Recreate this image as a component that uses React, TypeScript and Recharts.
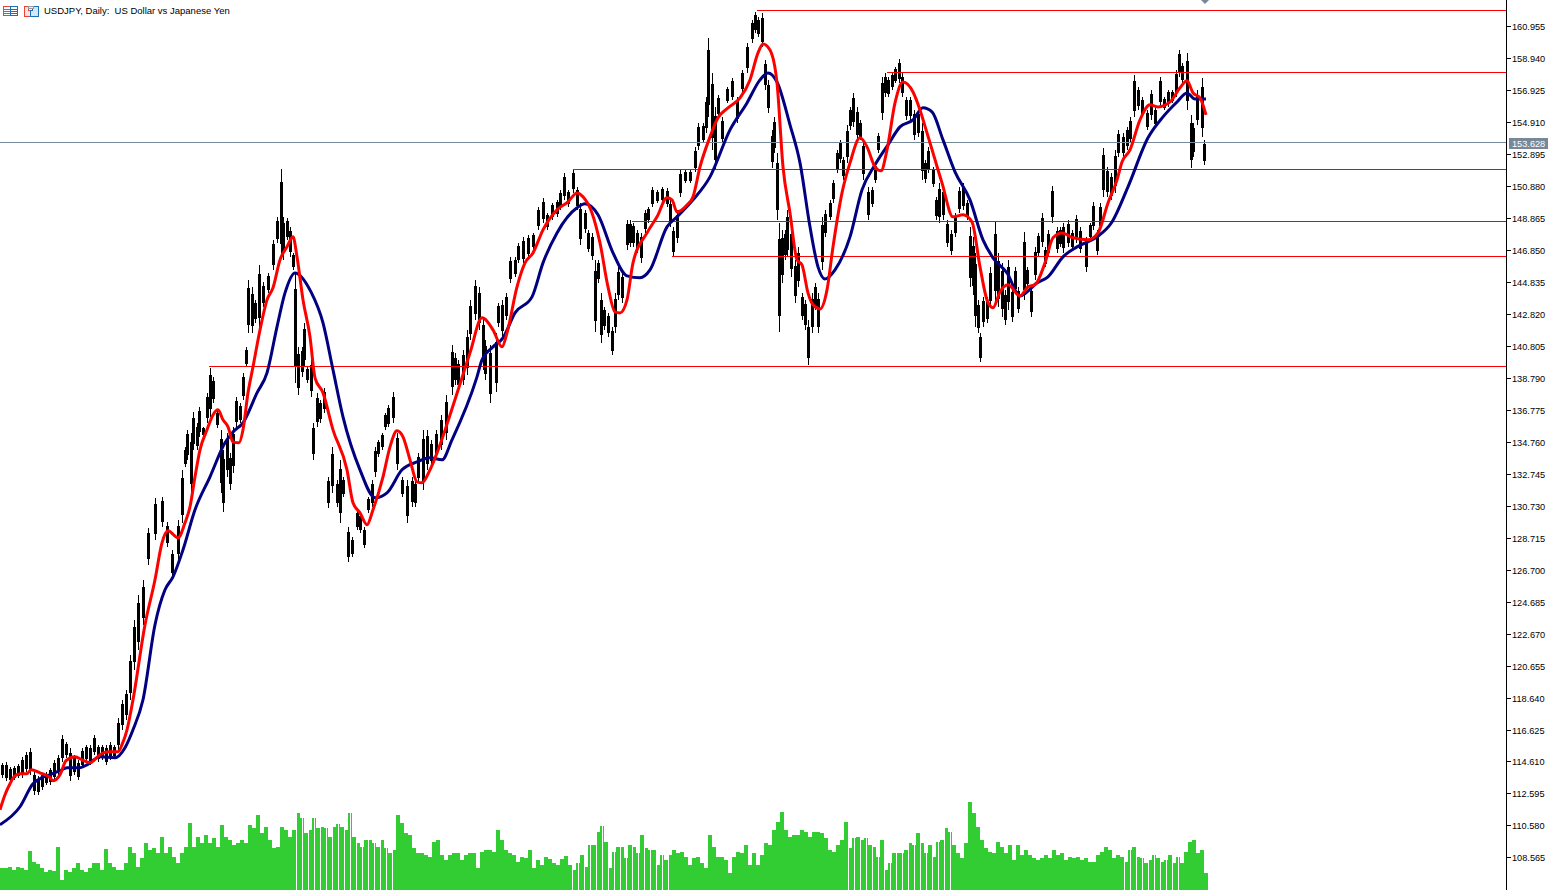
import { Bar, ComposedChart, Line, ReferenceDot, ReferenceLine, XAxis, YAxis } from "recharts";

const CHART_WIDTH = 1558;
const CHART_HEIGHT = 890;
const LAST_PRICE = 153.628;
const VIEW_DAYS = 1506;

const priceTicks = [
  160.955, 158.94, 156.925, 154.91, 152.895, 150.88, 148.865, 146.85, 144.835, 142.82, 140.805, 138.79, 136.775,
  134.76, 132.745, 130.73, 128.715, 126.7, 124.685, 122.67, 120.655, 118.64, 116.625, 114.61, 112.595, 110.58, 108.565,
];

// support / resistance levels: [first day, price]
const redLevels = [
  [757, 161.97],
  [887, 158.03],
  [573, 151.92],
  [632, 148.65],
  [672, 146.44],
  [209, 139.51],
];

// stretches where the volume bars stand apart from each other
const sparseVolumeSpans = [
  [294, 396],
  [572, 673],
  [848, 950],
  [1124, 1180],
];

const barDays = [
  2, 6, 10, 14, 18, 22, 26, 30, 34, 38, 42, 46, 50, 54, 58, 62, 66, 70, 74, 78, 82, 86, 90, 94, 98, 102, 106, 110, 114, 118,
  122, 126, 130, 134, 138, 143, 148, 155, 162, 167, 172, 178, 182, 185, 187, 191, 193, 197, 199, 203, 207, 210, 213, 217,
  221, 223, 227, 230, 233, 236, 240, 243, 246, 248, 252, 255, 259, 263, 268, 273, 277, 281, 283, 287, 290, 293, 295, 298,
  302, 304, 307, 311, 313, 317, 320, 324, 328, 332, 337, 340, 343, 348, 352, 357, 360, 364, 368, 372, 375, 378, 382, 385,
  388, 393, 397, 402, 407, 412, 415, 418, 423, 427, 431, 436, 441, 446, 452, 455, 458, 463, 467, 470, 475, 479, 483, 485,
  490, 496, 498, 502, 506, 510, 515, 518, 523, 528, 533, 538, 543, 547, 552, 557, 560, 564, 568, 573, 577, 580, 585, 588,
  592, 595, 598, 601, 604, 608, 612, 615, 618, 622, 627, 630, 633, 637, 641, 645, 648, 652, 657, 662, 667, 670, 673, 677,
  680, 685, 690, 695, 698, 703, 706, 708, 712, 715, 718, 722, 727, 732, 737, 742, 747, 752, 755, 758, 762, 765, 768, 772,
  774, 777, 779, 782, 785, 787, 791, 795, 798, 802, 805, 808, 812, 815, 818, 822, 825, 830, 833, 837, 840, 843, 847, 850,
  853, 857, 860, 863, 868, 872, 875, 878, 882, 885, 888, 892, 895, 899, 902, 906, 910, 914, 918, 922, 925, 928, 933, 936,
  939, 943, 947, 951, 955, 959, 963, 967, 970, 973, 975, 978, 980, 983, 987, 990, 995, 998, 1002, 1005, 1008, 1012, 1015,
  1018, 1024, 1027, 1031, 1035, 1038, 1042, 1045, 1048, 1052, 1057, 1060, 1063, 1068, 1072, 1076, 1080, 1086, 1090, 1093,
  1097, 1100, 1103, 1107, 1111, 1115, 1118, 1123, 1127, 1130, 1134, 1138, 1142, 1147, 1151, 1155, 1160, 1164, 1168, 1172,
  1176, 1179, 1182, 1187, 1191, 1193, 1197, 1202, 1204,
];

const barHighs = [
  114.56, 114.62, 114.31, 114.37, 114.5, 114.94, 115.25, 115.51, 114.0, 113.74, 113.93, 114.0, 114.25, 114.75, 115.07,
  116.33, 115.88, 115.51, 115.07, 114.75, 115.51, 115.7, 115.7, 116.33, 115.7, 115.7, 115.7, 115.88, 115.7, 117.4,
  118.53, 119.16, 121.37, 123.57, 125.15, 126.09, 129.37, 131.26, 131.32, 129.74, 127.98, 129.87, 133.02, 134.47, 135.54,
  135.35, 136.67, 135.98, 136.99, 135.73, 137.87, 139.45, 138.88, 136.8, 135.54, 134.28, 135.35, 134.09, 135.73, 137.62,
  137.24, 139.13, 140.77, 144.99, 144.55, 143.73, 145.94, 144.86, 145.43, 147.51, 148.96, 151.98, 148.96, 148.9, 148.33,
  146.69, 145.43, 140.77, 140.77, 142.28, 139.51, 139.95, 135.98, 137.87, 137.43, 138.19, 132.58, 134.47, 132.39, 133.65,
  132.58, 129.43, 128.8, 130.5, 130.31, 129.43, 131.32, 132.39, 134.47, 134.91, 135.35, 136.61, 137.12, 137.93, 135.35,
  132.58, 132.39, 132.58, 132.39, 134.09, 135.54, 135.54, 134.91, 135.54, 136.48, 137.75, 140.9, 140.39, 139.95, 140.58,
  141.84, 143.73, 144.99, 144.55, 142.66, 141.21, 140.9, 141.65, 143.54, 143.73, 144.17, 146.44, 146.44, 147.32, 147.7,
  147.82, 147.95, 149.59, 150.16, 149.21, 149.84, 150.03, 150.66, 151.73, 150.66, 151.92, 150.85, 149.84, 149.4, 148.14,
  147.95, 146.25, 146.25, 144.17, 143.29, 142.91, 142.03, 144.17, 145.81, 145.43, 148.77, 148.77, 148.58, 148.14, 147.95,
  149.4, 149.59, 150.85, 150.66, 150.85, 150.79, 150.03, 148.33, 149.4, 151.92, 151.92, 151.92, 153.37, 154.88, 154.88,
  156.52, 160.24, 158.03, 155.89, 156.65, 155.26, 157.15, 157.72, 156.52, 158.22, 159.92, 161.37, 161.87, 161.56, 161.81,
  158.85, 157.59, 154.44, 155.26, 152.99, 148.58, 148.14, 148.14, 149.4, 148.33, 146.25, 147.07, 144.17, 143.73, 142.47,
  144.17, 144.8, 144.17, 148.96, 149.4, 150.03, 151.29, 153.18, 153.81, 152.74, 154.76, 155.89, 156.77, 155.89, 155.07,
  153.81, 150.85, 150.85, 152.36, 154.25, 157.78, 158.03, 157.78, 158.03, 158.41, 158.91, 158.03, 156.52, 156.52, 155.7,
  155.7, 154.88, 152.55, 153.37, 152.11, 150.22, 151.1, 150.85, 148.77, 148.14, 149.21, 150.85, 151.1, 150.03, 148.33,
  147.7, 146.69, 143.73, 141.65, 143.92, 143.92, 145.81, 148.64, 146.69, 146.06, 144.36, 146.25, 144.55, 145.81, 144.55,
  148.01, 145.81, 144.55, 147.07, 147.95, 149.21, 147.07, 148.14, 150.91, 148.33, 148.33, 148.58, 148.77, 148.14, 149.08,
  148.33, 147.7, 148.58, 149.9, 148.14, 149.84, 153.31, 152.11, 151.73, 153.18, 154.44, 154.25, 154.63, 155.26, 157.91,
  157.15, 156.52, 155.7, 156.96, 155.89, 157.78, 156.52, 156.96, 156.96, 158.22, 159.48, 158.66, 159.29, 155.39, 154.88,
  156.96, 157.72, 153.81,
];

const barLows = [
  113.62, 113.43, 113.36, 113.49, 113.62, 113.62, 114.0, 113.81, 112.55, 112.55, 112.86, 113.18, 113.18, 113.49, 113.81,
  114.62, 114.88, 113.43, 113.81, 113.49, 114.25, 114.62, 114.43, 115.07, 114.62, 114.75, 114.43, 114.75, 114.88, 115.38,
  116.64, 117.27, 118.53, 120.42, 121.68, 123.26, 127.04, 128.61, 129.43, 128.17, 126.28, 127.35, 129.68, 133.21, 133.65,
  131.57, 134.28, 134.28, 135.1, 135.1, 135.98, 136.36, 137.24, 135.67, 131.57, 130.37, 132.58, 131.76, 132.83, 135.73,
  135.98, 137.43, 139.51, 141.65, 141.65, 142.28, 142.03, 143.29, 144.17, 145.62, 147.32, 146.44, 146.25, 147.51, 146.44,
  145.62, 138.5, 137.75, 138.88, 139.51, 138.5, 137.62, 133.65, 135.73, 135.98, 136.61, 130.63, 131.57, 130.69, 129.68,
  131.32, 127.22, 127.54, 129.24, 129.05, 128.11, 130.31, 130.69, 132.58, 133.84, 134.28, 135.54, 135.73, 135.98, 133.02,
  131.32, 129.68, 130.69, 130.69, 132.2, 131.76, 133.02, 133.34, 133.65, 134.28, 134.91, 137.75, 138.38, 138.06, 138.38,
  139.01, 141.21, 142.47, 141.84, 139.32, 138.69, 137.24, 137.93, 142.03, 141.4, 142.47, 144.8, 145.18, 146.06, 146.06,
  146.44, 146.88, 148.14, 148.58, 148.14, 148.77, 148.96, 149.4, 150.03, 149.59, 150.47, 149.4, 147.2, 147.95, 146.75,
  146.25, 141.71, 144.8, 141.02, 141.84, 141.4, 140.27, 141.65, 143.73, 143.54, 146.88, 147.07, 147.07, 146.69, 146.06,
  147.95, 148.58, 149.59, 149.84, 149.84, 149.59, 148.33, 146.5, 147.32, 150.22, 151.1, 151.1, 151.79, 153.18, 153.62,
  154.25, 155.26, 153.18, 151.92, 155.26, 153.62, 156.14, 156.33, 154.88, 156.77, 158.03, 159.92, 160.55, 160.3, 159.67,
  156.96, 155.51, 152.05, 152.99, 148.77, 141.71, 144.8, 146.25, 146.44, 145.18, 143.54, 144.55, 142.47, 141.84, 139.64,
  141.65, 143.1, 141.65, 145.62, 147.7, 148.77, 149.84, 151.73, 152.36, 151.29, 152.36, 154.44, 154.63, 153.81, 153.81,
  151.29, 148.77, 149.59, 151.1, 152.99, 155.07, 156.52, 156.52, 156.96, 157.4, 157.4, 156.52, 155.07, 155.07, 153.81,
  154.0, 151.29, 151.1, 151.73, 150.85, 148.77, 148.58, 148.77, 147.07, 146.57, 147.7, 149.21, 149.4, 148.77, 144.55,
  144.05, 142.03, 141.65, 139.82, 142.03, 142.28, 143.29, 143.54, 143.29, 142.66, 142.15, 143.1, 142.34, 144.17, 142.91,
  143.73, 144.55, 142.66, 144.99, 146.44, 147.07, 145.81, 146.44, 148.58, 146.69, 147.07, 146.69, 147.07, 146.88, 147.32,
  146.69, 145.49, 147.51, 148.14, 146.57, 148.14, 150.22, 150.22, 150.03, 150.47, 152.74, 152.74, 153.18, 153.62, 155.26,
  155.7, 155.26, 154.44, 155.07, 154.63, 155.89, 155.7, 155.89, 156.14, 156.52, 157.78, 157.4, 155.7, 152.05, 152.74,
  154.76, 154.0, 152.23,
];

const redDays = [
  0, 5, 10, 14, 20, 27, 31, 40, 50, 53, 60, 66, 75, 82, 90, 100, 108, 118, 122, 127, 133, 145, 155, 162, 168, 178, 185, 190,
  195, 200, 207, 213, 218, 223, 228, 233, 239, 243, 248, 253, 260, 267, 273, 280, 287, 293, 297, 303, 310, 315, 323, 333,
  347, 353, 360, 367, 373, 383, 390, 397, 403, 410, 417, 422, 430, 440, 450, 462, 470, 482, 493, 502, 507, 517, 525, 533,
  543, 557, 568, 577, 583, 592, 600, 608, 615, 620, 627, 633, 647, 657, 667, 672, 677, 687, 693, 700, 710, 718, 728, 740,
  750, 758, 763, 770, 777, 783, 790, 797, 802, 808, 813, 820, 827, 833, 842, 850, 860, 867, 875, 881, 887, 895, 903, 913,
  920, 927, 933, 942, 953, 963, 972, 980, 987, 993, 1000, 1008, 1020, 1028, 1035, 1045, 1053, 1062, 1073, 1088, 1098, 1108,
  1117, 1122, 1130, 1140, 1150, 1158, 1170, 1180, 1187, 1193, 1200, 1206,
];

const redValues = [
  111.6, 112.55, 113.24, 113.68, 113.87, 113.87, 114.12, 113.93, 113.62, 113.43, 113.81, 114.69, 114.94, 114.75, 114.56,
  115.07, 115.25, 115.25, 115.7, 116.64, 118.53, 123.26, 126.09, 128.42, 129.18, 128.74, 129.68, 130.69, 132.58, 134.28,
  135.54, 136.48, 136.8, 136.17, 135.73, 134.78, 134.72, 135.54, 137.87, 139.51, 141.84, 143.73, 144.49, 146.25, 147.07,
  147.7, 146.44, 143.73, 141.4, 138.82, 137.87, 135.54, 133.02, 130.94, 130.31, 129.56, 130.5, 132.58, 134.47, 135.48,
  135.1, 133.65, 132.26, 132.2, 133.02, 134.6, 136.48, 138.82, 140.39, 142.6, 141.84, 140.77, 141.65, 144.55, 146.06,
  146.69, 148.14, 149.4, 149.9, 150.47, 150.22, 149.21, 147.32, 144.55, 142.97, 142.91, 143.73, 146.06, 147.95, 148.96,
  150.16, 150.03, 149.27, 149.71, 150.22, 152.11, 154.0, 155.2, 155.83, 156.46, 157.59, 159.29, 159.86, 159.48, 157.4,
  152.11, 149.21, 146.25, 145.93, 144.17, 143.42, 143.16, 144.36, 147.07, 150.47, 152.36, 153.94, 153.37, 152.11, 151.86,
  153.18, 156.14, 157.46, 156.83, 155.7, 154.25, 152.99, 151.1, 148.96, 149.09, 148.64, 145.81, 143.73, 143.23, 144.23,
  144.68, 143.98, 144.55, 144.68, 146.06, 147.64, 147.95, 147.64, 147.51, 147.95, 149.84, 151.29, 152.42, 153.18, 155.07,
  156.02, 155.89, 156.2, 157.09, 157.53, 156.77, 156.46, 155.39,
];

const blueDays = [
  0, 20, 33, 42, 50, 60, 67, 80, 87, 100, 115, 125, 133, 143, 155, 165, 173, 183, 195, 210, 225, 233, 243, 257, 267, 277,
  285, 295, 311, 323, 333, 343, 360, 375, 387, 402, 417, 430, 442, 452, 477, 482, 493, 503, 515, 532, 543, 557, 577, 585,
  598, 613, 627, 640, 650, 667, 677, 693, 710, 730, 747, 760, 768, 777, 790, 800, 810, 818, 825, 835, 850, 862, 875, 888,
  900, 913, 923, 932, 943, 955, 970, 983, 993, 1007, 1020, 1037, 1048, 1063, 1077, 1097, 1112, 1128, 1148, 1163, 1177,
  1187, 1195, 1206,
];

const blueValues = [
  110.66, 111.79, 113.24, 113.62, 113.81, 114.06, 114.25, 114.25, 114.43, 114.94, 114.88, 115.51, 116.64, 118.53, 123.26,
  125.46, 126.28, 127.98, 130.5, 132.58, 134.72, 135.41, 135.98, 137.87, 139.13, 142.03, 144.17, 145.43, 144.23, 142.28,
  139.32, 136.36, 133.02, 131.26, 131.57, 133.02, 133.52, 133.78, 133.65, 134.91, 138.88, 139.95, 140.77, 141.34, 142.91,
  143.92, 146.06, 147.95, 149.53, 149.78, 149.09, 146.69, 145.24, 145.12, 145.62, 148.33, 148.96, 150.03, 151.48, 154.44,
  156.14, 157.59, 158.03, 157.46, 154.76, 152.36, 148.33, 145.81, 145.05, 145.62, 147.7, 150.66, 152.24, 153.5, 154.63,
  155.07, 155.83, 155.57, 153.81, 151.79, 150.03, 147.51, 146.38, 145.43, 143.98, 144.8, 145.18, 146.44, 147.07, 147.7,
  148.64, 150.85, 153.94, 155.26, 156.2, 156.77, 156.39, 156.39,
];

// tick volume, one reading for every 4 days starting at day 2
const volumes = [
  22, 22, 23, 20, 23, 22, 20, 39, 28, 26, 22, 18, 20, 19, 43, 10, 20, 18, 22, 27, 20, 18, 22, 27, 27, 20, 41, 27, 23, 20,
  20, 27, 43, 37, 23, 32, 47, 40, 42, 37, 53, 37, 43, 33, 27, 37, 43, 67, 43, 53, 47, 55, 47, 52, 43, 65, 53, 50, 45, 47,
  50, 47, 65, 62, 75, 57, 63, 50, 42, 43, 63, 60, 53, 60, 77, 72, 57, 60, 72, 62, 63, 62, 53, 63, 66, 63, 60, 77, 53, 47,
  43, 50, 50, 47, 43, 50, 42, 37, 40, 75,
  67, 57, 55, 42, 37, 37, 35, 33, 48, 50, 35, 30, 35, 37, 37, 30, 35, 37, 37, 22, 38, 40, 40, 38, 60, 50, 40, 37, 35, 28,
  33, 32, 40, 22, 30, 25, 33, 31, 27, 25, 31, 34, 25, 20, 27, 35, 23, 45, 45, 58, 64, 48, 22, 38, 43, 43, 32, 45, 43, 37,
  55, 42, 40, 40, 25, 35, 30, 35, 40, 37, 38, 33, 25, 32, 33, 27, 22, 55, 43, 33, 33, 30, 17, 33, 38, 37, 45, 25, 37, 25,
  35, 47, 45, 60, 68, 78, 60, 53, 55, 55, 60, 58, 53, 58,
  58, 57, 52, 40, 38, 45, 50, 68, 42, 52, 53, 50, 52, 45, 43, 33, 50, 20, 27, 37, 37, 37, 40, 47, 45, 57, 47, 37, 45, 33,
  48, 50, 62, 58, 45, 37, 32, 47, 88, 77, 63, 50, 42, 38, 37, 48, 43, 37, 45, 30, 45, 35, 40, 35, 32, 30, 32, 35, 32, 40,
  35, 37, 30, 33, 32, 33, 30, 32, 28, 28, 35, 38, 43, 40, 32, 35, 33, 28, 40, 43, 33, 32, 27, 30, 35, 32, 28, 30, 35, 27,
  33, 27, 38, 48, 50, 37, 40, 17,
];

interface Row {
  day: number;
  range?: [number, number];
  red?: number;
  blue?: number;
  volume?: number;
}

function buildRows(): Row[] {
  const rows = new Map<number, Row>();
  const rowAt = (day: number): Row => {
    if (!rows.has(day)) rows.set(day, { day });
    return rows.get(day) as Row;
  };
  barDays.forEach((day, i) => {
    rowAt(day).range = [barLows[i], barHighs[i]];
  });
  redDays.forEach((day, i) => {
    rowAt(day).red = redValues[i];
  });
  blueDays.forEach((day, i) => {
    rowAt(day).blue = blueValues[i];
  });
  volumes.forEach((volume, i) => {
    rowAt(2 + i * 4).volume = volume;
  });
  return [...rows.values()].sort((a, b) => a.day - b.day);
}

const rows = buildRows();

// thin full range with a thicker middle, so dense stretches read as a solid mass and spikes stay thin
function PriceBarShape(props: any) {
  const { x, y, width, height, payload } = props;
  if (!payload.range) return null;
  const center = Math.round(x + width / 2);
  const top = Math.min(y, y + height);
  const size = Math.abs(height);
  return (
    <g fill="#000000" shapeRendering="crispEdges">
      <rect x={center} y={top} width={1} height={size} />
      <rect x={center - 1} y={top + size * 0.15} width={3} height={size * 0.7} />
    </g>
  );
}

function VolumeBarShape(props: any) {
  const { x, y, width, height, payload } = props;
  if (payload.volume == null) return null;
  const left = Math.round(x + width / 2 - 2);
  const sparse = sparseVolumeSpans.some(([from, to]) => payload.day >= from && payload.day <= to);
  // weekly white gap at every 6th day in the sparse stretches
  let gap = -1;
  if (sparse) {
    for (let d = payload.day - 2; d < payload.day + 2; d++) {
      if (d % 6 === 2) gap = d - (payload.day - 2);
    }
  }
  return (
    <g fill="#32CD32" shapeRendering="crispEdges">
      {gap < 0 ? (
        <rect x={left} y={y} width={4} height={height} />
      ) : (
        <>
          <rect x={left} y={y} width={gap} height={height} />
          <rect x={left + gap + 1} y={y} width={3 - gap} height={height} />
        </>
      )}
    </g>
  );
}

function PriceTick(props: any) {
  const { x, y, payload } = props;
  const axisX = x - 8;
  const label = payload.value.toFixed(3);
  if (payload.value === LAST_PRICE) {
    return (
      <g>
        <rect x={axisX + 3} y={y - 5} width={39} height={11} fill="#778899" shapeRendering="crispEdges" />
        <text x={axisX + 6} y={y + 4} fontSize={9.2} fill="#ffffff" fontFamily="Liberation Sans">
          {label}
        </text>
      </g>
    );
  }
  return (
    <g>
      <line x1={axisX} x2={axisX + 5} y1={y} y2={y} stroke="#000000" shapeRendering="crispEdges" />
      <text x={axisX + 6} y={y + 3.5} fontSize={9.2} fill="#000000" fontFamily="Liberation Sans">
        {label}
      </text>
    </g>
  );
}

function Diamond(props: any) {
  const { cx, cy } = props;
  return <path d={`M${cx - 4} ${cy} L${cx} ${cy - 4} L${cx + 4} ${cy} L${cx} ${cy + 4} Z`} fill="#778899" />;
}

function HeaderIcons() {
  return (
    <svg width={40} height={16} style={{ display: "block" }} shapeRendering="crispEdges">
      <rect x={3.5} y={4.5} width={7} height={9} fill="#fff" stroke="#e8443a" />
      <rect x={10.5} y={4.5} width={7} height={9} fill="#fff" stroke="#1a6fb5" />
      <line x1={4} x2={10} y1={7} y2={7} stroke="#e8443a" />
      <line x1={4} x2={10} y1={9} y2={9} stroke="#e8443a" />
      <line x1={4} x2={10} y1={11} y2={11} stroke="#e8443a" />
      <line x1={11} x2={17} y1={7} y2={7} stroke="#1a6fb5" />
      <line x1={11} x2={17} y1={9} y2={9} stroke="#1a6fb5" />
      <line x1={11} x2={17} y1={11} y2={11} stroke="#1a6fb5" />
      <path d="M24.5 4.5h4v4h2v6h-6z" fill="#fde0dc" stroke="#e8443a" />
      <path d="M32.5 8.5V4.5h6v10h-8v-6z" fill="#d3e8f7" stroke="#1a6fb5" />
      <rect x={28.5} y={4.5} width={5} height={2} fill="#eeeeee" stroke="#999999" />
    </svg>
  );
}

export default function App() {
  return (
    <div style={{ position: "absolute", left: 0, top: 0, width: CHART_WIDTH, height: CHART_HEIGHT, background: "#fff" }}>
      <ComposedChart width={CHART_WIDTH} height={CHART_HEIGHT} data={rows} margin={{ top: 0, right: 0, bottom: 0, left: 0 }}>
        <XAxis xAxisId="price" dataKey="day" type="number" domain={[0, VIEW_DAYS]} allowDataOverflow hide />
        <XAxis xAxisId="volume" dataKey="day" type="number" domain={[0, VIEW_DAYS]} allowDataOverflow hide />
        <YAxis
          yAxisId="price"
          orientation="right"
          width={52}
          type="number"
          domain={[106.544, 162.625]}
          allowDataOverflow
          ticks={[...priceTicks, LAST_PRICE]}
          interval={0}
          tick={<PriceTick />}
          tickLine={false}
          axisLine={{ stroke: "#000000", shapeRendering: "crispEdges" }}
        />
        <YAxis yAxisId="volume" orientation="left" width={0} hide type="number" domain={[0, 890]} allowDataOverflow />
        <Bar xAxisId="volume" yAxisId="volume" dataKey="volume" shape={<VolumeBarShape />} isAnimationActive={false} />
        <ReferenceLine xAxisId="price" yAxisId="price" y={LAST_PRICE} stroke="#778899" shapeRendering="crispEdges" />
        {redLevels.map(([day, level]) => (
          <ReferenceLine
            key={level}
            xAxisId="price"
            yAxisId="price"
            segment={[
              { x: day, y: level },
              { x: VIEW_DAYS, y: level },
            ]}
            stroke="#ff0000"
            shapeRendering="crispEdges"
          />
        ))}
        <Bar xAxisId="price" yAxisId="price" dataKey="range" shape={<PriceBarShape />} isAnimationActive={false} />
        <Line
          xAxisId="price"
          yAxisId="price"
          dataKey="blue"
          type="monotone"
          stroke="#000080"
          strokeWidth={3}
          dot={false}
          activeDot={false}
          connectNulls
          isAnimationActive={false}
        />
        <Line
          xAxisId="price"
          yAxisId="price"
          dataKey="red"
          type="monotone"
          stroke="#ff0000"
          strokeWidth={3}
          dot={false}
          activeDot={false}
          connectNulls
          isAnimationActive={false}
        />
        <ReferenceDot
          xAxisId="price"
          yAxisId="price"
          x={1205}
          y={162.625}
          shape={<Diamond />}
          ifOverflow="visible"
        />
      </ComposedChart>
      <div
        style={{
          position: "absolute",
          left: 0,
          top: 2,
          display: "flex",
          alignItems: "center",
          gap: 4,
          fontFamily: "Liberation Sans",
          fontSize: 9.5,
          color: "#000",
          whiteSpace: "pre",
        }}
      >
        <HeaderIcons />
        <span>USDJPY, Daily:  US Dollar vs Japanese Yen</span>
      </div>
    </div>
  );
}
